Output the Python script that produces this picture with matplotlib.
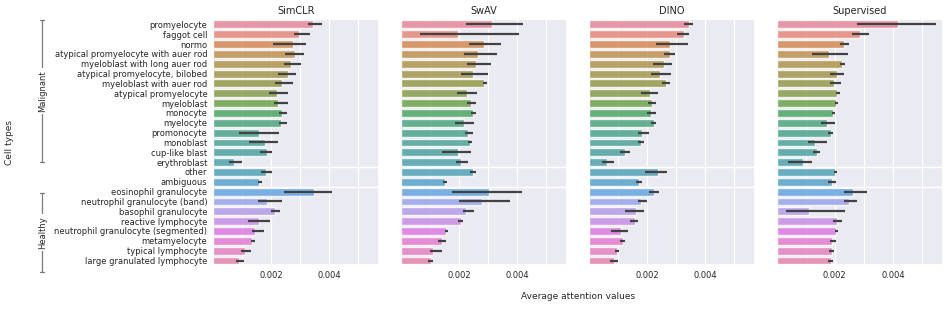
import numpy as np
import matplotlib
matplotlib.use("Agg")
import matplotlib.pyplot as plt
import matplotlib.transforms as mtransforms
from matplotlib.lines import Line2D
import seaborn as sns

cell_types = [
    "promyelocyte", "faggot cell", "normo", "atypical promyelocyte with auer rod",
    "myeloblast with long auer rod", "atypical promyelocyte, bilobed",
    "myeloblast with auer rod", "atypical promyelocyte", "myeloblast", "monocyte",
    "myelocyte", "promonocyte", "monoblast", "cup-like blast", "erythroblast",
    "other", "ambiguous",
    "eosinophil granulocyte", "neutrophil granulocyte (band)", "basophil granulocyte",
    "reactive lymphocyte", "neutrophil granulocyte (segmented)", "metamyelocyte",
    "typical lymphocyte", "large granulated lymphocyte",
]
models = ["SimCLR", "SwAV", "DINO", "Supervised"]

# mean attention per cell type (x 1e-3)
simclr_mean = [3.43, 2.97, 2.77, 2.83, 2.69, 2.59, 2.39, 2.21, 2.25, 2.38, 2.35, 1.57, 1.79,
               1.86, 0.71, 1.84, 1.60, 3.49, 1.86, 2.15, 1.59, 1.46, 1.35, 1.09, 0.88]
swav_mean = [3.14, 1.95, 2.86, 2.67, 2.57, 2.50, 2.87, 2.26, 2.42, 2.47, 2.18, 2.32, 2.38,
             1.95, 2.08, 2.48, 1.51, 3.04, 2.81, 2.25, 2.06, 1.54, 1.43, 1.12, 1.02]
dino_mean = [3.44, 3.27, 2.80, 2.80, 2.59, 2.45, 2.66, 2.11, 2.19, 2.13, 2.23, 1.84, 1.78,
             1.23, 0.61, 2.38, 1.74, 2.23, 1.78, 1.64, 1.58, 1.10, 1.16, 0.98, 0.86]
sup_mean = [4.18, 2.87, 2.32, 1.80, 2.24, 2.06, 1.98, 2.08, 2.05, 1.95, 1.74, 1.86, 1.32,
            1.38, 0.91, 2.00, 1.90, 2.63, 2.48, 1.11, 2.07, 2.05, 1.92, 1.89, 1.86]

# confidence interval bounds (x 1e-3)
simclr_lo = [3.26, 2.78, 2.08, 2.48, 2.43, 2.24, 2.14, 1.94, 2.09, 2.26, 2.29, 0.89, 1.23,
             1.61, 0.56, 1.67, 1.54, 2.43, 1.55, 1.99, 1.22, 1.33, 1.31, 0.96, 0.80]
simclr_hi = [3.75, 3.34, 3.20, 3.15, 3.02, 2.87, 2.75, 2.59, 2.58, 2.54, 2.54, 2.29, 2.23,
             2.03, 0.99, 2.03, 1.68, 4.09, 2.37, 2.31, 1.97, 1.74, 1.45, 1.31, 1.07]
swav_lo = [2.23, 0.65, 2.34, 2.17, 2.27, 2.06, 2.82, 1.92, 2.29, 2.40, 1.87, 2.21, 2.31,
           1.41, 1.90, 2.37, 1.44, 1.77, 1.99, 2.13, 1.97, 1.52, 1.29, 1.01, 0.94]
swav_hi = [4.22, 4.06, 3.45, 3.31, 3.11, 3.01, 2.96, 2.63, 2.59, 2.58, 2.51, 2.49, 2.46,
           2.42, 2.31, 2.59, 1.59, 4.17, 3.75, 2.53, 2.15, 1.62, 1.57, 1.41, 1.12]
dino_lo = [3.28, 3.05, 2.33, 2.59, 2.20, 2.14, 2.52, 1.80, 2.05, 2.00, 2.15, 1.68, 1.69,
           1.07, 0.44, 1.93, 1.64, 2.06, 1.68, 1.24, 1.43, 0.75, 1.08, 0.90, 0.72]
dino_hi = [3.59, 3.45, 3.41, 2.98, 2.88, 2.84, 2.78, 2.38, 2.32, 2.32, 2.30, 2.09, 1.90,
           1.41, 0.88, 2.69, 1.83, 2.43, 2.00, 1.89, 1.69, 1.36, 1.23, 1.05, 1.00]
sup_lo = [2.77, 2.59, 2.18, 1.23, 2.17, 1.82, 1.82, 2.03, 2.00, 1.91, 1.51, 1.78, 1.07,
          1.25, 0.37, 1.98, 1.76, 2.33, 2.33, 0.33, 1.93, 2.01, 1.83, 1.80, 1.78]
sup_hi = [5.48, 3.17, 2.49, 2.44, 2.34, 2.32, 2.23, 2.17, 2.10, 2.02, 1.99, 1.94, 1.74,
          1.48, 1.21, 2.06, 2.05, 3.11, 2.78, 2.36, 2.26, 2.10, 2.05, 1.97, 1.95]

means = [simclr_mean, swav_mean, dino_mean, sup_mean]
lows = [simclr_lo, swav_lo, dino_lo, sup_lo]
highs = [simclr_hi, swav_hi, dino_hi, sup_hi]

sns.set_theme(style="darkgrid")
plt.rcParams["font.family"] = ["DejaVu Sans"]

palette = [sns.desaturate(c, 0.75) for c in sns.color_palette("husl", len(cell_types))]
ypos = np.arange(len(cell_types))

fig, axes = plt.subplots(1, 4, figsize=(9.51, 3.09), dpi=100, sharex=True, sharey=True)
fig.subplots_adjust(left=0.224, right=0.9913, top=0.937, bottom=0.141, wspace=0.1325)

for ax, name, m, lo, hi in zip(axes, models, means, lows, highs):
    m = np.array(m) * 1e-3
    lo = np.array(lo) * 1e-3
    hi = np.array(hi) * 1e-3
    ax.barh(ypos, m, height=0.8, color=palette, alpha=0.8, zorder=2)
    ax.hlines(ypos, lo, hi, color="#424242", lw=1.6, zorder=3)
    ax.axhline(14.5, color="white", lw=1.0, zorder=1)
    ax.axhline(16.5, color="white", lw=1.0, zorder=1)
    ax.set_title(name, fontsize=7, pad=4)
    ax.set_xticks([0.002, 0.004])
    ax.set_xticks([0.001, 0.003, 0.005], minor=True)
    ax.xaxis.set_major_formatter(plt.FuncFormatter(lambda v, p: f"{v:.3f}"))
    ax.grid(True, axis="x", which="both", color="white", lw=0.9)
    ax.grid(False, axis="y")
    ax.tick_params(axis="both", which="both", length=0, labelsize=6, pad=4)

axes[0].set_yticks(ypos)
axes[0].set_yticklabels(cell_types)
axes[0].set_ylim(len(cell_types) - 0.5, -0.5)
axes[0].set_xlim(0, 0.00572)

# group brackets
trans = mtransforms.blended_transform_factory(fig.transFigure, axes[0].transData)
bx = 42.3 / 951
tick = 2.0 / 951
for label, y0, y1 in [("Malignant", -0.45, 13.95), ("Healthy", 17.1, 25.2)]:
    for line in [
        Line2D([bx, bx], [y0, y1], transform=trans, color="#7a7a7a", lw=0.9),
        Line2D([bx - tick, bx + tick], [y0, y0], transform=trans, color="#7a7a7a", lw=0.9),
        Line2D([bx - tick, bx + tick], [y1, y1], transform=trans, color="#7a7a7a", lw=0.9),
    ]:
        line.set_clip_on(False)
        fig.add_artist(line)
    fig.text(bx, (y0 + y1) / 2, label, transform=trans, rotation=90, ha="center",
             va="center", fontsize=6,
             bbox=dict(facecolor="white", edgecolor="none", pad=1.5))

fig.text(10 / 951, 0.539, "Cell types", rotation=90, ha="center", va="center", fontsize=6.5)
fig.text(0.6078, 0.042, "Average attention values", ha="center", va="center", fontsize=6.5)

fig.savefig("out.png", dpi=100)
